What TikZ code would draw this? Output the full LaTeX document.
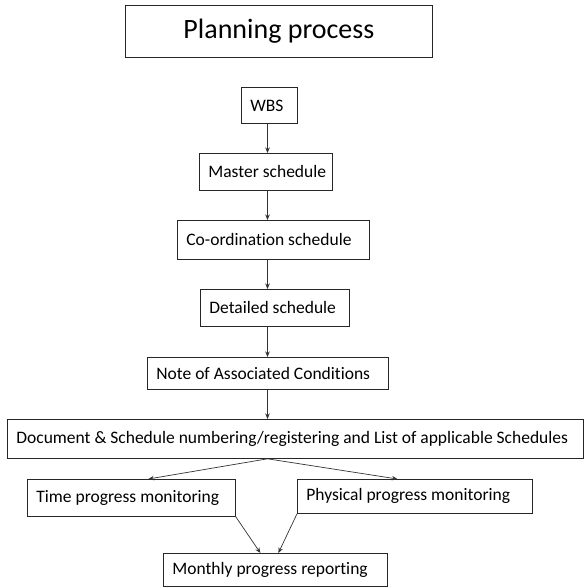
\documentclass[tikz,border=0pt]{standalone}
\usepackage{fontspec}
\setmainfont[Ligatures={NoCommon}]{Carlito}
\usetikzlibrary{arrows.meta}
\newcommand\myplainbox[1]{\spaceskip=0pt\relax\xspaceskip=0pt\relax\mbox{#1}}
\begin{document}
\begin{tikzpicture}[x=1pt,y=-1pt,
  box/.style={draw=black!85,line width=0.8pt,anchor=north west,inner sep=0pt,font=\fontsize{17.5}{20}\selectfont},
  lbox/.style={box,inner xsep=9pt,inner ysep=0pt},
  conn/.style={draw=black!80,line width=0.7pt,-{Stealth[length=5.5pt,width=4.5pt]}}]
\useasboundingbox (0,0) rectangle (586,587);
\node[box,minimum width=307,minimum height=52,font=\fontsize{28}{32}\selectfont] (title) at (125,5) {Planning process};
\node[lbox,text width=38pt,minimum height=36] (wbs) at (241,87) {\myplainbox{WBS}};
\node[lbox,text width=115pt,minimum height=37] (master) at (199,153) {\myplainbox{Master schedule}};
\node[lbox,text width=174pt,minimum height=39] (coord) at (177,220) {\myplainbox{Co-ordination schedule}};
\node[lbox,text width=131pt,minimum height=37] (detail) at (200,289) {\myplainbox{Detailed schedule}};
\node[lbox,text width=223pt,minimum height=32] (note) at (147,357) {\myplainbox{Note of Associated Conditions}};
\node[lbox,text width=558pt,minimum height=39] (doc) at (7,419) {\myplainbox{Document \& Schedule numbering/registering and List of applicable Schedules}};
\node[lbox,text width=190pt,minimum height=37] (time) at (27,479) {\myplainbox{Time progress monitoring}};
\node[lbox,text width=217pt,minimum height=34] (phys) at (297,479) {\myplainbox{Physical progress monitoring}};
\node[lbox,text width=206pt,minimum height=33] (month) at (163,553) {\myplainbox{Monthly progress reporting}};
\coordinate (spine) at (267.5,0);
\draw[conn] (wbs.south -| spine) -- (master.north -| spine);
\draw[conn] (master.south -| spine) -- (coord.north -| spine);
\draw[conn] (coord.south -| spine) -- (detail.north -| spine);
\draw[conn] (detail.south -| spine) -- (note.north -| spine);
\draw[conn] (note.south -| spine) -- (doc.north -| spine);
\draw[conn] (doc.south -| spine) -- ([xshift=17pt]time.north);
\draw[conn] (doc.south -| spine) -- ([xshift=-17.5pt]phys.north);
\draw[conn] (time.south east) -- ([xshift=-15pt]month.north);
\draw[conn] (phys.south west) -- ([xshift=3pt]month.north);
\end{tikzpicture}
\end{document}
